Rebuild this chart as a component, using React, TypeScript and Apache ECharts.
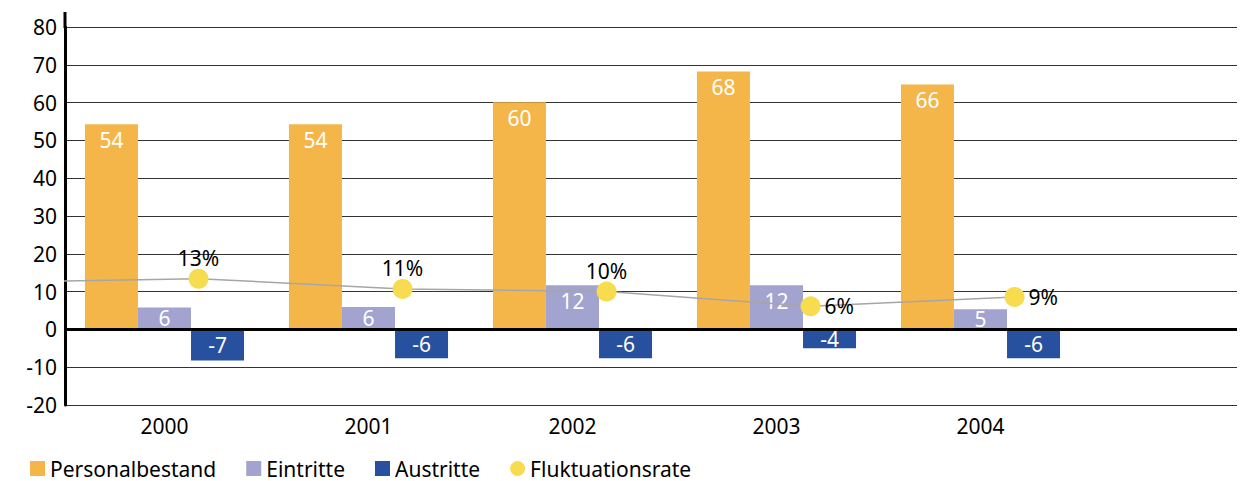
import React, { useEffect, useRef } from 'react';
import * as echarts from 'echarts';

const years = ['2000', '2001', '2002', '2003', '2004'];
const personalbestand = [54.3, 54.3, 60.1, 68.2, 64.8];
const personalbestandLabels = ['54', '54', '60', '68', '66'];
const eintritte = [5.8, 5.9, 11.7, 11.7, 5.3];
const eintritteLabels = ['6', '6', '12', '12', '5'];
const austritte = [-8.2, -7.6, -7.6, -5.0, -7.6];
const austritteLabels = ['-7', '-6', '-6', '-4', '-6'];
const fluktuationsrate = [13.4, 10.7, 10.0, 6.1, 8.6];
const fluktuationsLabels = ['13%', '11%', '10%', '6%', '9%'];
const fluktuationsrateVorjahr = 12.5;

export default function App() {
  const ref = useRef<HTMLDivElement>(null);
  useEffect(() => {
    document.body.style.margin = '0';
    const chart = echarts.init(ref.current!, null, { renderer: 'svg' });
    const font = 'Noto Sans';
    const fs = 21;
    const barWidth = 53;
    const barOffset = 0.26;
    const pointOffset = 0.167;

    const bar = (
      name: string,
      values: number[],
      labels: string[],
      offset: number,
      color: string,
      labelPos: (v: number) => string,
      extra: any = {}
    ) => ({
      name,
      type: 'bar',
      barWidth,
      barGap: '-100%',
      itemStyle: { color },
      label: {
        show: true,
        color: '#fff',
        fontSize: fs,
        fontFamily: font,
        distance: 5,
        formatter: (p: any) => labels[p.dataIndex],
      },
      data: values.map((v, i) => ({
        value: [i + offset, v],
        label: { position: labelPos(v) },
      })),
      ...extra,
    });

    chart.setOption({
      animation: false,
      grid: { left: 65, right: 12, top: 27, bottom: 76, containLabel: false },
      legend: {
        left: 30,
        top: 458,
        padding: 0,
        itemWidth: 15,
        itemHeight: 15,
        itemGap: 30,
        textStyle: { fontSize: fs, fontFamily: font, color: '#000' },
        data: [
          { name: 'Personalbestand', icon: 'rect' },
          { name: 'Eintritte', icon: 'rect' },
          { name: 'Austritte', icon: 'rect' },
          { name: 'Fluktuationsrate', icon: 'circle', itemStyle: { opacity: 1 } },
        ],
      },
      xAxis: {
        type: 'value',
        min: -0.4877,
        max: 5.2574,
        splitLine: { show: false },
        axisTick: { show: false },
        axisLine: { show: false },
        axisLabel: {
          customValues: [0, 1, 2, 3, 4],
          formatter: (v: number) => years[Math.round(v)] ?? '',
          fontSize: fs,
          fontFamily: font,
          color: '#000',
          margin: 10,
        },
      },
      yAxis: {
        type: 'value',
        min: -20,
        max: 80,
        interval: 10,
        axisLine: { show: true, onZero: false, lineStyle: { color: '#000', width: 3 } },
        axisTick: { show: false },
        splitLine: { lineStyle: { color: '#333', width: 1.2 } },
        axisLabel: { fontSize: fs, fontFamily: font, color: '#000', margin: 8 },
      },
      graphic: [
        {
          type: 'line',
          shape: { x1: 65, y1: 12, x2: 65, y2: 28 },
          style: { stroke: '#000', lineWidth: 3 },
          z: 10,
        },
      ],
      series: [
        bar('Personalbestand', personalbestand, personalbestandLabels, -barOffset, '#F5B649', () => 'insideTop'),
        bar('Eintritte', eintritte, eintritteLabels, 0, '#A2A3CE', (v) => (v < 8 ? 'inside' : 'insideTop')),
        bar('Austritte', austritte, austritteLabels, barOffset, '#27519E', () => 'inside', {
          markLine: {
            silent: true,
            symbol: ['none', 'none'],
            label: { show: false },
            lineStyle: { color: '#000', width: 3, type: 'solid' },
            data: [{ yAxis: 0 }],
          },
        }),
        {
          type: 'line',
          silent: true,
          clip: true,
          symbol: 'none',
          z: 3,
          lineStyle: { color: '#a6a6a6', width: 1.5 },
          data: [
            [-1 + pointOffset, fluktuationsrateVorjahr],
            ...fluktuationsrate.map((v, i) => [i + pointOffset, v]),
          ],
        },
        {
          name: 'Fluktuationsrate',
          type: 'scatter',
          symbolSize: 20,
          z: 4,
          itemStyle: { color: '#F8DC4F', opacity: 1 },
          label: {
            show: true,
            color: '#000',
            fontSize: fs,
            fontFamily: font,
            formatter: (p: any) => fluktuationsLabels[p.dataIndex],
          },
          data: fluktuationsrate.map((v, i) => ({
            value: [i + pointOffset, v],
            label: i < 3 ? { position: 'top', distance: 0 } : { position: 'right', distance: 4 },
          })),
        },
      ],
    });
    return () => chart.dispose();
  }, []);
  return <div ref={ref} style={{ width: 1249, height: 481 }} />;
}
